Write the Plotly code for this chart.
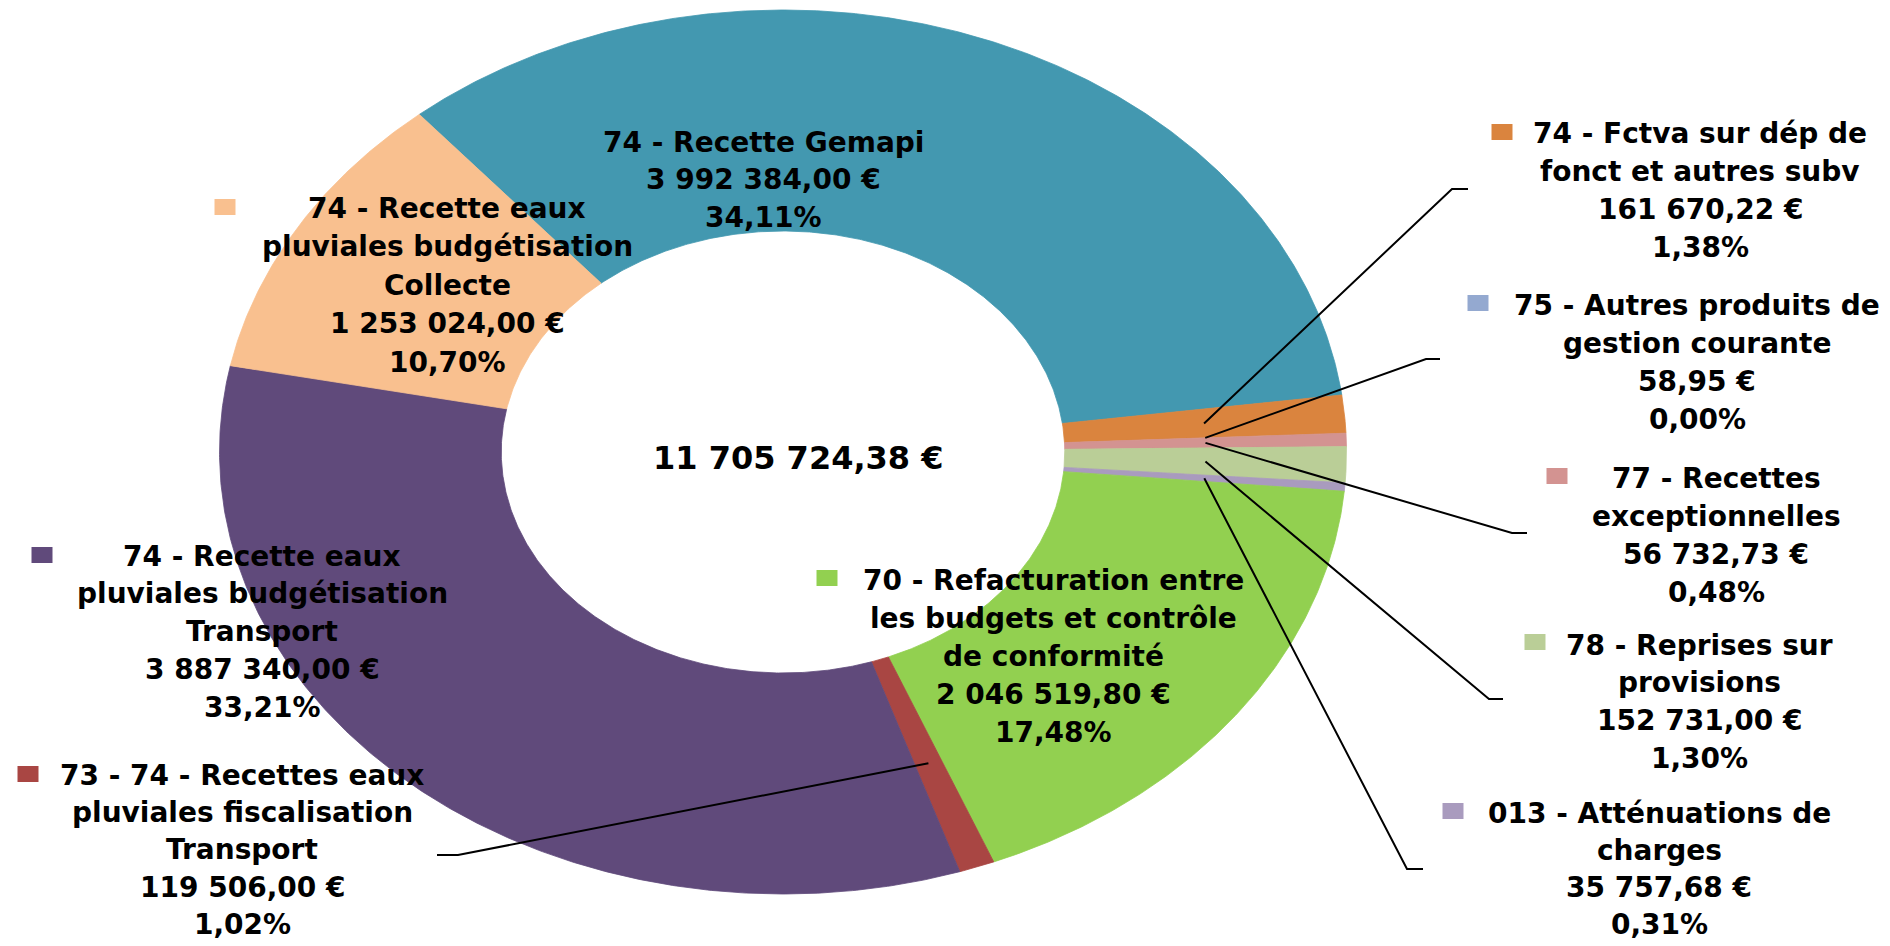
import numpy as np
import plotly.graph_objects as go

# ---------------- data ----------------
categories = [
    "74 - Recette Gemapi",
    "74 - Fctva sur dép de fonct et autres subv",
    "75 - Autres produits de gestion courante",
    "77 - Recettes exceptionnelles",
    "78 - Reprises sur provisions",
    "013 - Atténuations de charges",
    "70 - Refacturation entre les budgets et contrôle de conformité",
    "73 - 74 - Recettes eaux pluviales fiscalisation Transport",
    "74 - Recette eaux pluviales budgétisation Transport",
    "74 - Recette eaux pluviales budgétisation Collecte",
]
values = [3992384.00, 161670.22, 58.95, 56732.73, 152731.00, 35757.68,
          2046519.80, 119506.00, 3887340.00, 1253024.00]
label_lines = [
    ["74 - Recette Gemapi"],
    ["74 - Fctva sur dép de", "fonct et autres subv"],
    ["75 - Autres produits de", "gestion courante"],
    ["77 - Recettes", "exceptionnelles"],
    ["78 - Reprises sur", "provisions"],
    ["013 - Atténuations de", "charges"],
    ["70 - Refacturation entre", "les budgets et contrôle", "de conformité"],
    ["73 - 74 - Recettes eaux", "pluviales fiscalisation", "Transport"],
    ["74 - Recette eaux", "pluviales budgétisation", "Transport"],
    ["74 - Recette eaux", "pluviales budgétisation", "Collecte"],
]
colors = ["#4398B0", "#DA843E", "#94A9D0", "#D39391", "#BACE97", "#A99BBE",
          "#92D050", "#A94643", "#604A7B", "#F9C08F"]

# ---------------- layout / styling ----------------
W, H = 1890, 946
CX, CY, RX, RY = 783, 452, 563.5, 442   # ellipse (stretched donut) in pixels
HOLE = 0.5
START_ANGLE = 319.8                      # clockwise from 12 o'clock
FONT = "DejaVu Sans, Verdana, sans-serif"
FS = 28

# label placement: centre x, first line y, line spacing, key (x, y), leader elbow (x0, x1, y)
label_pos = [
    (763, 142, 37.5, None, None),
    (1700, 133, 38.3, (1502, 132), (1452, 1468, 189)),
    (1697, 305, 38.0, (1478, 303), (1426, 1440, 359)),
    (1716, 478, 38.3, (1557, 476), (1512, 1527, 533)),
    (1699, 645, 37.7, (1535, 642), (1489, 1503, 699)),
    (1659, 813, 37.3, (1453, 811), (1407, 1423, 869)),
    (1053, 580, 38.0, (827, 578), None),
    (242, 775, 37.4, (28, 774), (458, 437, 855)),
    (262, 556, 37.9, (42, 555), None),
    (447, 208, 38.5, (225, 207), None),
]


def fmt_eur(v):
    s = f"{v:,.2f}".replace(",", " ").replace(".", ",")
    return s + " €"


def fmt_pct(p):
    return f"{p:.2f}".replace(".", ",") + "%"


def pt(angle_deg, frac):
    a = np.radians(angle_deg)
    return CX + RX * frac * np.sin(a), CY - RY * frac * np.cos(a)


total = sum(values)
fig = go.Figure()

cum = START_ANGLE
mids = []
for name, v, col in zip(categories, values, colors):
    span = v / total * 360.0
    a0, a1 = cum, cum + span
    cum = a1
    mids.append((a0 + a1) / 2)
    n = max(2, int(span / 0.4) + 2)
    th = np.linspace(a0, a1, n)
    xo, yo = pt(th, 1.0)
    xi, yi = pt(th[::-1], HOLE)
    xs = np.concatenate([xo, xi, xo[:1]])
    ys = np.concatenate([yo, yi, yo[:1]])
    fig.add_trace(go.Scatter(
        x=xs, y=ys, mode="lines", fill="toself", fillcolor=col,
        line=dict(color=col, width=0.8 if span > 0.05 else 0),
        name=name, hoverinfo="text",
        text=f"{name}<br>{fmt_eur(v)}<br>{fmt_pct(v / total * 100)}",
        showlegend=False))

annotations = []
shapes = []
for i, (lines, v) in enumerate(zip(label_lines, values)):
    lx, ly, sp, key, elbow = label_pos[i]
    all_lines = lines + [fmt_eur(v), fmt_pct(v / total * 100)]
    for j, t in enumerate(all_lines):
        annotations.append(dict(
            x=lx, y=ly + j * sp, xref="x", yref="y", text=f"<b>{t}</b>",
            showarrow=False, xanchor="center", yanchor="middle",
            font=dict(family=FONT, size=FS, color="#000000")))
    if key is not None:
        kx, ky = key
        shapes.append(dict(type="rect", xref="x", yref="y",
                           x0=kx - 10.5, x1=kx + 10.5, y0=ky - 8, y1=ky + 8,
                           fillcolor=colors[i], line=dict(width=0)))
    if elbow is not None:
        ex0, ex1, ey = elbow
        ox, oy = pt(mids[i], 0.75)
        fig.add_trace(go.Scatter(
            x=[float(ox), ex0, ex1], y=[float(oy), ey, ey], mode="lines",
            line=dict(color="#000000", width=2),
            hoverinfo="skip", showlegend=False))

annotations.append(dict(
    x=798, y=458, xref="x", yref="y", text=f"<b>{fmt_eur(total)}</b>",
    showarrow=False, xanchor="center", yanchor="middle",
    font=dict(family=FONT, size=32, color="#000000")))

fig.update_layout(
    width=W, height=H,
    margin=dict(l=0, r=0, t=0, b=0),
    paper_bgcolor="white", plot_bgcolor="white",
    xaxis=dict(range=[0, W], visible=False, fixedrange=True),
    yaxis=dict(range=[H, 0], visible=False, fixedrange=True),
    annotations=annotations, shapes=shapes,
    showlegend=False,
)

fig.write_html(
    "out.html",
    config={"displayModeBar": False},
    post_script="document.body.style.margin='0';document.body.style.overflow='hidden';",
)
